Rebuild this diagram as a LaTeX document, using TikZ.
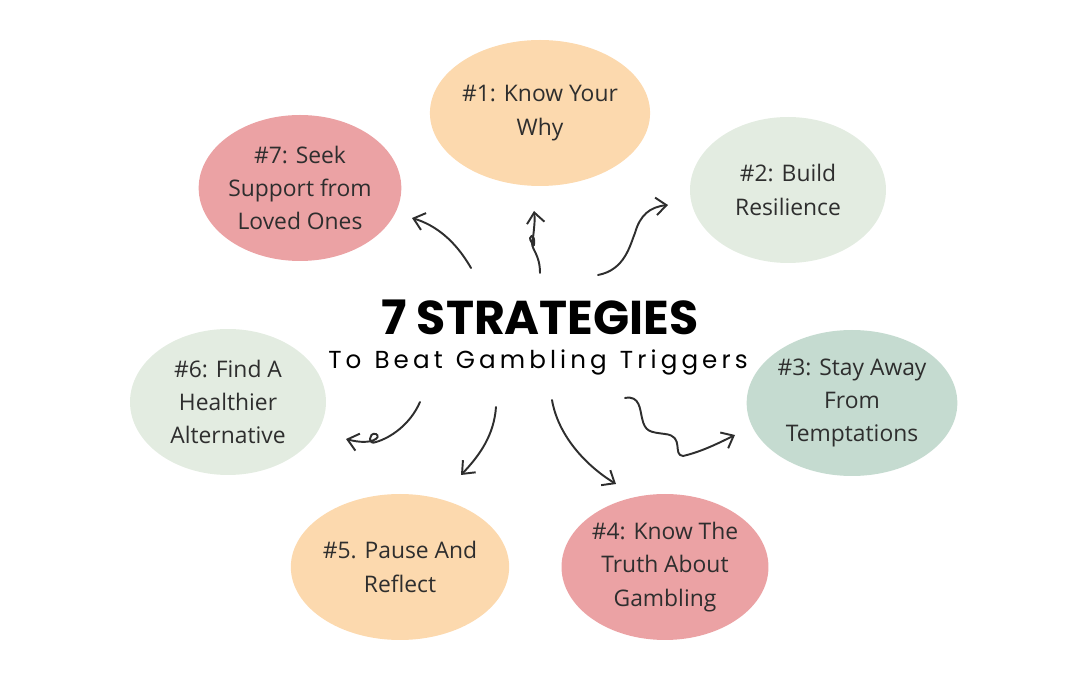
\documentclass[tikz,border=0pt]{standalone}
\usepackage{fontspec}
\setmainfont{Open Sans}
\newfontfamily\titlefont{Poppins}
\usetikzlibrary{arrows.meta}
\definecolor{peach}{HTML}{FCD9AE}
\definecolor{rose}{HTML}{EBA2A4}
\definecolor{mint}{HTML}{E3ECE1}
\definecolor{sage}{HTML}{C5DBD0}
\definecolor{ink}{HTML}{2E2E2E}
\tikzset{
	strat/.style={ellipse, fill=#1, minimum width=196*0.02cm, minimum height=146*0.02cm, align=center, font=\fontsize{13}{19}\selectfont, text=ink, inner sep=0pt},
	squiggle/.style={-{Straight Barb[length=6pt,width=10pt]}, line width=1.1pt, ink, line cap=round}
}
\usetikzlibrary{shapes.geometric}
\begin{document}
\begin{tikzpicture}[x=0.02cm, y=-0.02cm]
		\useasboundingbox (0,0) rectangle (1080,675);
		% ellipses
		\node[strat=peach] (one) at (540,113) {\#1: Know Your\\Why};
		\node[strat=mint] (two) at (788,190) {\#2: Build\\Resilience};
		\node[strat=sage] (three) at (852,403) {\#3: Stay Away\\From\\Temptations};
		\node[strat=rose] (four) at (665,567) {\#4: Know The\\Truth About\\Gambling};
		\node[strat=peach] (five) at (400,567) {\#5. Pause And\\Reflect};
		\node[strat=mint] (six) at (228,402) {\#6: Find A\\Healthier\\Alternative};
		\node[strat=rose] (seven) at (300,188) {\#7: Seek\\Support from\\Loved Ones};
		% title
		\node[font=\titlefont\fontsize{27}{30}\selectfont\bfseries, text=black] (title) at (540,317) {7 STRATEGIES};
		\node[font=\titlefont\fontsize{14}{16}\selectfont, text=black] (sub) at (538,362) {T\,o\ \ B\,e\,a\,t\ \ G\,a\,m\,b\,l\,i\,n\,g\ \ T\,r\,i\,g\,g\,e\,r\,s};
		% arrows
		\coordinate (s7) at (471,268); \coordinate (e7) at (412,218);
		\coordinate (s1) at (540,273); \coordinate (e1) at (534,211);
		\coordinate (s2) at (598,275); \coordinate (e2) at (668,205);
		\coordinate (s6) at (420,402); \coordinate (e6) at (346,439);
		\coordinate (s5) at (496,407); \coordinate (e5) at (461,475);
		\coordinate (s4) at (552,400); \coordinate (e4) at (616,484);
		\coordinate (s3) at (625,398); \coordinate (e3) at (735,435);
		\draw[squiggle] (s7) .. controls (455,240) and (435,225) .. (e7);
		\draw[squiggle] (s1) .. controls (540,255) and (532,250) .. (532,243) .. controls (526,235) and (536,232) .. (534,245) .. controls (530,250) and (536,225) .. (e1);
		\draw[squiggle] (s2) .. controls (625,270) and (630,245) .. (635,233) .. controls (640,215) and (650,207) .. (e2);
		\draw[squiggle] (s6) .. controls (410,425) and (390,438) .. (376,442) .. controls (368,446) and (368,432) .. (376,434) .. controls (382,437) and (372,446) .. (e6);
		\draw[squiggle] (s5) .. controls (494,435) and (480,455) .. (e5);
		\draw[squiggle] (s4) .. controls (558,435) and (585,465) .. (e4);
		\draw[squiggle] (s3) .. controls (640,395) and (640,410) .. (642,418) .. controls (645,432) and (650,432) .. (665,434) .. controls (685,436) and (672,455) .. (683,456) .. controls (700,452) and (715,445) .. (e3);
	\end{tikzpicture}
\end{document}
